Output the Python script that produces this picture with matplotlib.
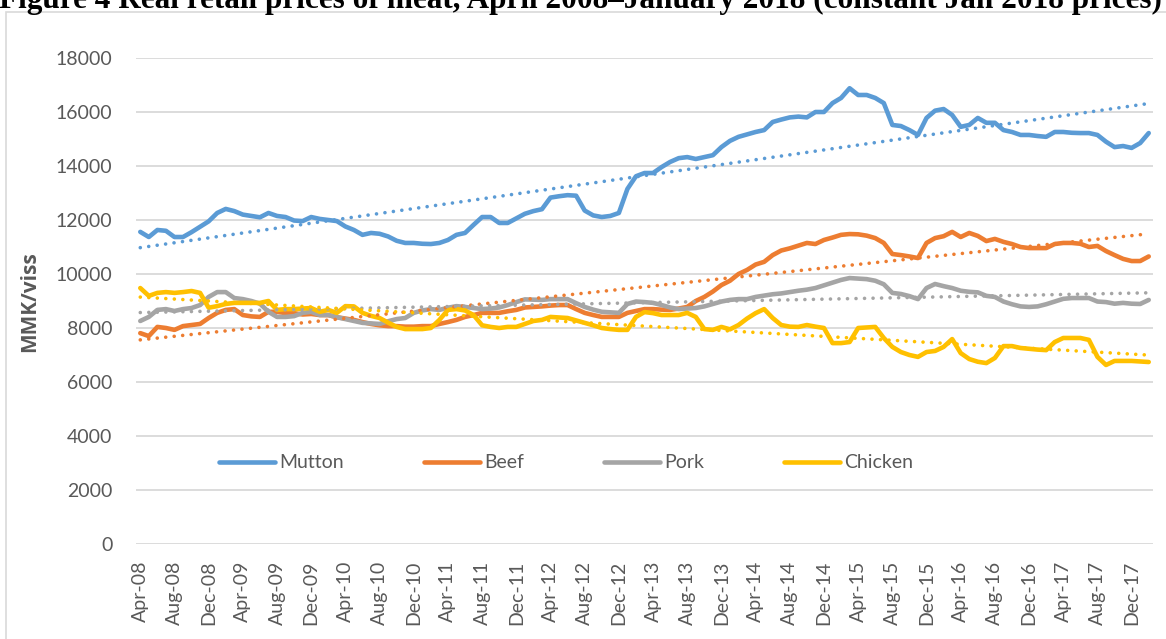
import numpy as np
import pandas as pd
import matplotlib
matplotlib.use("Agg")
import matplotlib.pyplot as plt
from matplotlib.patches import Rectangle

# ---------------- data ----------------
months = pd.date_range("2008-04-01", "2018-02-01", freq="MS")

mutton = [11560, 11370, 11630, 11600, 11370, 11370, 11550, 11750, 11950, 12260,
          12410, 12330, 12200, 12150, 12100, 12260, 12150, 12110, 11980, 11960,
          12110, 12040, 12000, 11960, 11760, 11630, 11450, 11520, 11490, 11390,
          11230, 11150, 11150, 11120, 11110, 11150, 11260, 11450, 11520, 11820,
          12110, 12110, 11890, 11890, 12060, 12230, 12330, 12400, 12830, 12880,
          12920, 12900, 12350, 12170, 12110, 12150, 12260, 13150, 13620, 13740,
          13740, 13960, 14150, 14290, 14330, 14260, 14330, 14400, 14700, 14930,
          15080, 15170, 15260, 15330, 15630, 15720, 15800, 15830, 15800, 16000,
          16000, 16330, 16520, 16880, 16630, 16630, 16520, 16330, 15520, 15480,
          15330, 15150, 15780, 16050, 16110, 15890, 15450, 15520, 15780, 15600,
          15600, 15330, 15260, 15150, 15150, 15110, 15080, 15260, 15260, 15230,
          15220, 15220, 15150, 14900, 14700, 14740, 14670, 14850, 15220]

beef = [7810, 7700, 8040, 8000, 7930, 8070, 8110, 8150, 8370, 8560,
        8670, 8700, 8480, 8430, 8410, 8600, 8600, 8550, 8550, 8500,
        8520, 8480, 8480, 8400, 8350, 8300, 8220, 8150, 8100, 8070,
        8070, 8050, 8050, 8070, 8070, 8150, 8220, 8300, 8410, 8480,
        8560, 8560, 8560, 8620, 8670, 8760, 8780, 8800, 8830, 8850,
        8850, 8700, 8560, 8480, 8410, 8410, 8410, 8560, 8630, 8700,
        8700, 8680, 8670, 8720, 8780, 9000, 9150, 9350, 9590, 9750,
        10000, 10150, 10350, 10450, 10700, 10870, 10950, 11050, 11150, 11110,
        11260, 11350, 11450, 11480, 11470, 11420, 11330, 11150, 10740, 10700,
        10650, 10590, 11150, 11330, 11400, 11560, 11370, 11520, 11410, 11220,
        11300, 11190, 11110, 11000, 10960, 10960, 10960, 11110, 11150, 11150,
        11120, 11000, 11040, 10850, 10700, 10560, 10480, 10480, 10650]

pork = [8260, 8410, 8670, 8700, 8630, 8700, 8740, 8850, 9150, 9330,
        9330, 9110, 9070, 9000, 8900, 8600, 8410, 8410, 8440, 8560,
        8600, 8480, 8480, 8400, 8330, 8260, 8190, 8170, 8150, 8250,
        8330, 8370, 8560, 8650, 8700, 8670, 8750, 8810, 8780, 8740,
        8700, 8720, 8760, 8850, 8960, 9060, 9050, 9040, 9070, 9070,
        9070, 8920, 8780, 8680, 8600, 8580, 8560, 8890, 8980, 8960,
        8930, 8850, 8760, 8700, 8720, 8740, 8800, 8890, 8980, 9040,
        9070, 9070, 9150, 9200, 9250, 9280, 9330, 9380, 9420, 9480,
        9580, 9680, 9780, 9850, 9830, 9810, 9750, 9620, 9300, 9260,
        9180, 9070, 9480, 9630, 9550, 9480, 9380, 9340, 9320, 9190,
        9150, 8980, 8880, 8800, 8780, 8800, 8880, 8980, 9080, 9110,
        9110, 9110, 8980, 8960, 8900, 8930, 8900, 8890, 9040]

chicken = [9480, 9190, 9300, 9330, 9300, 9330, 9370, 9300, 8750, 8810,
           8890, 8930, 8930, 8930, 8930, 9000, 8670, 8700, 8700, 8720,
           8740, 8600, 8670, 8560, 8810, 8800, 8560, 8450, 8370, 8200,
           8040, 7960, 7960, 7960, 8000, 8300, 8670, 8700, 8650, 8480,
           8100, 8040, 8000, 8040, 8040, 8150, 8260, 8300, 8410, 8390,
           8370, 8280, 8190, 8100, 8000, 7960, 7930, 7930, 8410, 8590,
           8550, 8480, 8480, 8480, 8560, 8410, 7960, 7930, 8040, 7950,
           8110, 8350, 8550, 8700, 8370, 8110, 8050, 8040, 8110, 8050,
           8000, 7440, 7440, 7480, 8000, 8020, 8040, 7630, 7300, 7110,
           7000, 6930, 7110, 7150, 7300, 7590, 7070, 6850, 6750, 6700,
           6890, 7330, 7330, 7260, 7230, 7200, 7180, 7480, 7630, 7630,
           7630, 7560, 6930, 6630, 6780, 6780, 6780, 6760, 6740]

series_names = ["Mutton", "Beef", "Pork", "Chicken"]
series_colors = ["#5B9BD5", "#ED7D31", "#A5A5A5", "#FFC000"]

tick_labels = ["Apr-08", "Aug-08", "Dec-08", "Apr-09", "Aug-09", "Dec-09",
               "Apr-10", "Aug-10", "Dec-10", "Apr-11", "Aug-11", "Dec-11",
               "Apr-12", "Aug-12", "Dec-12", "Apr-13", "Aug-13", "Dec-13",
               "Apr-14", "Aug-14", "Dec-14", "Apr-15", "Aug-15", "Dec-15",
               "Apr-16", "Aug-16", "Dec-16", "Apr-17", "Aug-17", "Dec-17"]

y_ticks = [0, 2000, 4000, 6000, 8000, 10000, 12000, 14000, 16000, 18000]

title = "Figure 4 Real retail prices of meat, April 2008\u2013January 2018 (constant Jan 2018 prices)"
y_label = "MMK/viss"

# ---------------- plot ----------------
plt.rcParams['font.family'] = ['Lato', 'DejaVu Sans']
W, H = 1166, 639
fig = plt.figure(figsize=(W / 100, H / 100), dpi=100)

# chart-area border (light gray), partially outside the image
fig.patches.append(Rectangle((6 / W, -0.5), 2.0, 1 - 12 / H + 0.5,
                             transform=fig.transFigure, fill=False,
                             edgecolor="#D9D9D9", linewidth=1.2, zorder=0))

ax = fig.add_axes([136 / W, 1 - 544 / H, (1153 - 136) / W, (544 - 58) / H])

x = np.arange(len(months))
all_series = [mutton, beef, pork, chicken]
lines = []
for name, vals, col in zip(series_names, all_series, series_colors):
    ln, = ax.plot(x, vals, color=col, linewidth=3.3, solid_joinstyle="round",
                  solid_capstyle="round", label=name, zorder=3)
    lines.append(ln)

# linear trend lines (computed from the data)
for vals, col in zip(all_series, series_colors):
    coef = np.polyfit(x, vals, 1)
    ax.plot(x, np.polyval(coef, x), color=col, linewidth=2.6,
            linestyle=(0, (0.01, 2.35)), dash_capstyle="round", zorder=4)

ax.set_xlim(-0.5, len(months) - 0.5)
ax.set_ylim(0, 18000)
ax.set_yticks(y_ticks)
ax.set_yticklabels([str(v) for v in y_ticks])
ax.set_xticks(np.arange(0, len(tick_labels) * 4, 4))
ax.set_xticklabels(tick_labels, rotation=90)
ax.tick_params(axis="both", length=0, labelsize=14, labelcolor="#595959")
ax.tick_params(axis="y", pad=17)
ax.tick_params(axis="x", pad=12)
ax.grid(axis="y", color="#D9D9D9", linewidth=1.3, zorder=0)
ax.set_axisbelow(True)
for s in ax.spines.values():
    s.set_visible(False)

fig.text(30 / W, 1 - 302 / H, y_label, rotation=90, ha="center", va="center",
         fontsize=15, fontweight="bold", family=["Open Sans", "DejaVu Sans"],
         color="#595959")

fig.text(-0.001, 1 - 8 / H, title, ha="left", va="baseline",
         fontsize=22.5, fontweight="bold", family=["Liberation Serif", "DejaVu Serif"],
         color="black")

leg = fig.legend(handles=lines, loc="center", bbox_to_anchor=(566 / W, 1 - 463 / H),
                 ncol=4, frameon=False, fontsize=14, handlelength=2.9,
                 handletextpad=0.2, columnspacing=4.1, labelcolor="#595959")

fig.savefig("out.png", dpi=100)
